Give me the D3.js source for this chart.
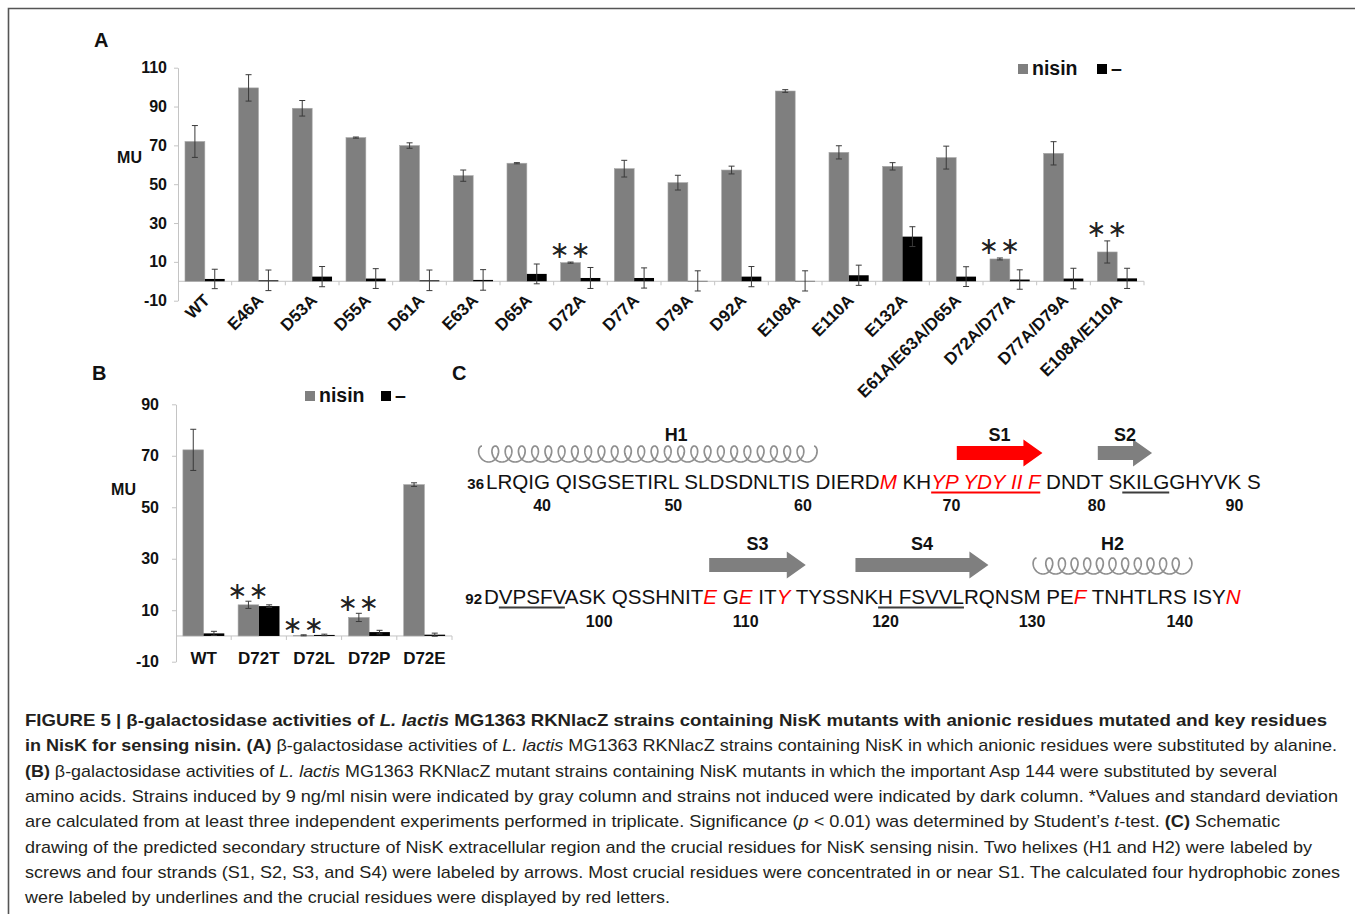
<!DOCTYPE html>
<html>
<head>
<meta charset="utf-8">
<script src="https://cdn.jsdelivr.net/npm/d3@7"></script>
<style>
body { margin: 0; background: #fff; }
svg { display: block; font-family: "Liberation Sans", Arial, sans-serif; }
.seq { white-space: pre; }
</style>
</head>
<body>
<svg id="fig" width="1355" height="914"></svg>
<script>
// ---------- panel A : alanine substitutions ----------
var strainsA = ["WT", "E46A", "D53A", "D55A", "D61A", "E63A", "D65A", "D72A", "D77A", "D79A",
                "D92A", "E108A", "E110A", "E132A", "E61A/E63A/D65A", "D72A/D77A", "D77A/D79A", "E108A/E110A"];
var nisinA    = [72.0, 99.6, 89.1, 74.0, 69.9, 54.4, 60.8, 9.6, 58.0, 50.8, 57.3, 98.0, 66.4, 59.2, 63.7, 11.5, 65.9, 15.1];
var nisinErrA = [8.2, 6.8, 4.0, 0.3, 1.4, 2.9, 0.3, 0.3, 4.3, 3.8, 2.0, 0.7, 3.4, 1.9, 5.9, 0.5, 6.0, 5.7];
var blankA    = [1.2, 0.5, 2.4, 1.4, 0.5, 0.7, 3.8, 1.7, 1.7, 0.2, 2.4, 0.2, 3.1, 23.0, 2.4, 0.9, 1.4, 1.5];
var blankErrA = [5.0, 5.3, 5.2, 5.1, 5.3, 5.3, 5.1, 5.4, 5.2, 5.2, 5.2, 5.2, 5.2, 5.1, 5.1, 5.0, 5.3, 5.2];
var starsA = ["D72A", "D72A/D77A", "E108A/E110A"];
var ticksA = [-10, 10, 30, 50, 70, 90, 110];

// ---------- panel B : D72 substitutions ----------
var strainsB = ["WT", "D72T", "D72L", "D72P", "D72E"];
var nisinB    = [72.3, 12.1, 0.25, 7.2, 58.8];
var nisinErrB = [8.0, 1.4, 0.2, 1.6, 0.7];
var blankB    = [1.0, 11.6, 0.4, 1.5, 0.5];
var blankErrB = [0.8, 0.5, 0.3, 0.7, 0.6];
var starsB = ["D72T", "D72L", "D72P"];
var ticksB = [-10, 10, 30, 50, 70, 90];

var seriesNames = ["nisin", "\u2013"];

// ---------- panel C : NisK extracellular sequence ----------
var seqRow1 = "LRQIG QISGSETIRL SLDSDNLTIS DIERDM KHYP YDY II F DNDT SKILGGHYVK S";
var seqRow2 = "DVPSFVASK QSSHNITE GE ITY TYSSNKH FSVVLRQNSM PEF TNHTLRS ISYN";
var crucial = [66, 69, 70, 71, 72, 73, 74, 75, 76, 108, 110, 113, 133, 144];
var hydrophobic = [[82, 85], [93, 97], [120, 125]];
var s1Zone = [69, 76];
var seqTicks = [40, 50, 60, 70, 80, 90, 100, 110, 120, 130, 140];
// secondary structure, in residue units
var structure = [
  { name: "H1", kind: "helix",  from: 35.1,  to: 61.3, labelAt: 50.5 },
  { name: "S1", kind: "strand", from: 70.65, to: 76.8, key: true },
  { name: "S2", kind: "strand", from: 80.4,  to: 84.9 },
  { name: "S3", kind: "strand", from: 108.3, to: 114.8 },
  { name: "S4", kind: "strand", from: 118.4, to: 127.6 },
  { name: "H2", kind: "helix",  from: 130.3, to: 141.4 }
];

var captionLines = [
  [["b", "FIGURE 5 | \u03b2-galactosidase activities of "], ["bi", "L. lactis"], ["b", " MG1363 RKNlacZ strains containing NisK mutants with anionic residues mutated and key residues"]],
  [["b", "in NisK for sensing nisin. (A)"], ["", " \u03b2-galactosidase activities of "], ["i", "L. lactis"], ["", " MG1363 RKNlacZ strains containing NisK in which anionic residues were substituted by alanine."]],
  [["b", "(B)"], ["", " \u03b2-galactosidase activities of "], ["i", "L. lactis"], ["", " MG1363 RKNlacZ mutant strains containing NisK mutants in which the important Asp 144 were substituted by several"]],
  [["", "amino acids. Strains induced by 9 ng/ml nisin were indicated by gray column and strains not induced were indicated by dark column. *Values and standard deviation"]],
  [["", "are calculated from at least three independent experiments performed in triplicate. Significance ("], ["i", "p"], ["", " < 0.01) was determined by Student\u2019s "], ["i", "t"], ["", "-test. "], ["b", "(C)"], ["", " Schematic"]],
  [["", "drawing of the predicted secondary structure of NisK extracellular region and the crucial residues for NisK sensing nisin. Two helixes (H1 and H2) were labeled by"]],
  [["", "screws and four strands (S1, S2, S3, and S4) were labeled by arrows. Most crucial residues were concentrated in or near S1. The calculated four hydrophobic zones"]],
  [["", "were labeled by underlines and the crucial residues were displayed by red letters."]]
];
var captionWidths = [1302, 1312, 1252, 1313, 1255, 1287, 1315, 645];

// ------------------------------------------------------------
var GREY = "#7f7f7f", RED = "#ff0000", INK = "#111";
var svg = d3.select("#fig");
svg.append("rect").attr("width", 1355).attr("height", 914).attr("fill", "#fff");
svg.append("path").attr("d", "M8.5,914V8.5H1355")
  .attr("fill", "none").attr("stroke", "#555").attr("stroke-width", 1.6);

function panelLabel(t, x, y) {
  svg.append("text").attr("x", x).attr("y", y).attr("font-size", 20)
    .attr("font-weight", "bold").attr("fill", INK).text(t);
}

function barPanel(o) {
  var g = svg.append("g");
  var x = d3.scaleBand().domain(o.cats).range([o.x0, o.x1]);
  var y = d3.scaleLinear().domain([o.ticks[0], o.ticks[o.ticks.length - 1]]).range([o.yb, o.yt]);
  var bw = x.bandwidth() * o.barFrac;
  var y0 = y(0);

  var ya = g.append("g").attr("transform", "translate(" + o.x0 + ",0)")
    .call(d3.axisLeft(y).tickValues(o.ticks).tickSize(4).tickSizeOuter(0)
      .tickPadding(o.tickPad).tickFormat(function (d) { return String(d); }));
  ya.select(".domain").attr("stroke", "#c4c4c4");
  ya.selectAll(".tick line").attr("stroke", "#c4c4c4");
  ya.selectAll(".tick text").attr("font-size", 16).attr("font-weight", "bold")
    .attr("fill", INK).attr("font-family", "Liberation Sans, Arial, sans-serif");

  // zero line with ticks between categories
  g.append("line").attr("x1", o.x0).attr("x2", o.x1).attr("y1", y0).attr("y2", y0)
    .attr("stroke", "#c4c4c4");
  g.selectAll(".sep").data(o.cats).join("line")
    .attr("x1", function (d) { return x(d) + x.step(); })
    .attr("x2", function (d) { return x(d) + x.step(); })
    .attr("y1", y0).attr("y2", y0 + 4).attr("stroke", "#c4c4c4");

  var series = [
    { vals: o.nisin, errs: o.nisinErr, fill: GREY, dx: -bw },
    { vals: o.blank, errs: o.blankErr, fill: "#000", dx: 0 }
  ];
  series.forEach(function (s) {
    var rows = o.cats.map(function (c, i) { return { c: c, v: s.vals[i], e: s.errs[i] }; });
    g.append("g").selectAll("rect").data(rows).join("rect")
      .attr("x", function (d) { return x(d.c) + x.bandwidth() / 2 + s.dx; })
      .attr("width", bw)
      .attr("y", function (d) { return Math.min(y(d.v), y0); })
      .attr("height", function (d) { return Math.abs(y0 - y(d.v)); })
      .attr("fill", s.fill)
      .attr("stroke", s.fill === GREY ? "#a8a8a8" : "none").attr("stroke-width", 0.6);
    var eb = g.append("g").attr("stroke", "#3a3a3a").attr("stroke-width", 1)
      .selectAll("g").data(rows).join("g")
      .attr("transform", function (d) { return "translate(" + (x(d.c) + x.bandwidth() / 2 + s.dx + bw / 2) + ",0)"; });
    eb.append("line").attr("y1", function (d) { return y(d.v - d.e); }).attr("y2", function (d) { return y(d.v + d.e); });
    eb.append("line").attr("x1", -3).attr("x2", 3).attr("y1", function (d) { return y(d.v + d.e); }).attr("y2", function (d) { return y(d.v + d.e); });
    eb.append("line").attr("x1", -3).attr("x2", 3).attr("y1", function (d) { return y(d.v - d.e); }).attr("y2", function (d) { return y(d.v - d.e); });
  });

  // significance marks over the nisin bar
  g.selectAll(".star").data(o.stars).join("text")
    .attr("x", function (c) { return x(c) + x.bandwidth() / 2 - bw / 2; })
    .attr("y", function (c) {
      var i = o.cats.indexOf(c);
      return y(o.nisin[i] + o.nisinErr[i]) - o.starGap + 8;
    })
    .attr("text-anchor", "middle").attr("font-family", "DejaVu Sans, sans-serif")
    .attr("font-size", 24).attr("letter-spacing", 1)
    .attr("fill", "#222").text("\u2217\u2217");

  // category labels
  var lab = g.selectAll(".cat").data(o.cats).join("text")
    .attr("font-size", 17).attr("font-weight", "bold").attr("fill", INK).text(function (d) { return d; });
  if (o.rotate) {
    lab.attr("text-anchor", "end")
      .attr("transform", function (d) { return "translate(" + (x(d) + x.bandwidth() / 2 + 6) + "," + (y0 + 20) + ") rotate(-45)"; });
  } else {
    lab.attr("text-anchor", "middle").attr("x", function (d) { return x(d) + x.bandwidth() / 2; })
      .attr("y", o.labBase);
  }

  g.append("text").attr("x", o.muX).attr("y", o.muY).attr("text-anchor", "end")
    .attr("font-size", 16).attr("font-weight", "bold").attr("fill", INK).text("MU");

  // legend
  var lg = g.selectAll(".lg").data(seriesNames).join("g")
    .attr("transform", function (d, i) { return "translate(" + (o.legX + i * o.legStep) + "," + o.legY + ")"; });
  lg.append("rect").attr("width", 10).attr("height", 10)
    .attr("fill", function (d, i) { return i === 0 ? GREY : "#000"; });
  lg.append("text").attr("x", 14).attr("y", 11).attr("font-size", 19.5).attr("font-weight", "bold")
    .attr("fill", INK).text(function (d) { return d; });
}

panelLabel("A", 94, 47);
barPanel({
  cats: strainsA, nisin: nisinA, nisinErr: nisinErrA, blank: blankA, blankErr: blankErrA,
  stars: starsA, ticks: ticksA, x0: 178, x1: 1144, yb: 300.7, yt: 67.7, barFrac: 0.37,
  tickPad: 7, starGap: 12, rotate: true, muX: 142, muY: 163,
  legX: 1018, legY: 64, legStep: 79
});

panelLabel("B", 92, 380);
barPanel({
  cats: strainsB, nisin: nisinB, nisinErr: nisinErrB, blank: blankB, blankErr: blankErrB,
  stars: starsB, ticks: ticksB, x0: 176, x1: 452, yb: 661.7, yt: 404.3, barFrac: 0.375,
  tickPad: 13, starGap: 10, rotate: false, labBase: 664, muX: 136, muY: 495,
  legX: 305, legY: 391, legStep: 76
});

// ---------- panel C ----------
panelLabel("C", 452, 380);
var gC = svg.append("g");
var rows = [
  { seq: seqRow1, first: 36, x: 486, base: 488.5, numBase: 511, structY: 453, labBase: 441 },
  { seq: seqRow2, first: 92, x: 484, base: 603.5, numBase: 627, structY: 565, labBase: 550 }
];

function helixPath(x0, x1, yc) {
  var n = Math.round((x1 - x0) / 13.6), rx = 6.3, ry = 8;
  var T = n * 2 * Math.PI, pts = [];
  for (var t = 0; t <= T + 1e-6; t += 0.1) {
    pts.push([x0 + rx + (x1 - x0 - 2 * rx) * t / T - rx * Math.sin(t), yc - ry * Math.cos(t)]);
  }
  return d3.line()(pts);
}
function arrowPath(x0, x1, yc) {
  var bh = 7, hh = 13.5, hl = 19;
  return d3.line()([[x0, yc - bh], [x1 - hl, yc - bh], [x1 - hl, yc - hh], [x1, yc],
    [x1 - hl, yc + hh], [x1 - hl, yc + bh], [x0, yc + bh]]) + "Z";
}

rows.forEach(function (row) {
  var chars = row.seq.split(""), res = [], r = row.first;
  chars.forEach(function (c) { res.push(c === " " ? null : r++); });
  var last = r - 1;
  var runs = [];
  chars.forEach(function (c, i) {
    var red = res[i] === null ? (runs.length ? runs[runs.length - 1].red : false) : crucial.indexOf(res[i]) >= 0;
    if (runs.length && runs[runs.length - 1].red === red) runs[runs.length - 1].t += c;
    else runs.push({ t: c, red: red });
  });

  gC.append("text").attr("x", row.x - 2).attr("y", row.base).attr("text-anchor", "end")
    .attr("font-size", 15).attr("font-weight", "bold").attr("fill", INK).text(row.first);

  var txt = gC.append("text").attr("class", "seq").attr("x", row.x).attr("y", row.base)
    .attr("font-size", 20.6).attr("fill", INK);
  txt.selectAll("tspan").data(runs).join("tspan")
    .attr("fill", function (d) { return d.red ? RED : INK; })
    .attr("font-style", function (d) { return d.red ? "italic" : "normal"; })
    .text(function (d) { return d.t; });

  var node = txt.node(), left = {}, right = {};
  res.forEach(function (rr, i) {
    if (rr === null) return;
    var e = node.getExtentOfChar(i);
    left[rr] = e.x; right[rr] = e.x + e.width;
  });
  function pos(v) {
    var i = Math.floor(v), f = v - i;
    if (i < row.first) return left[row.first] + (v - row.first) * (left[row.first + 1] - left[row.first]);
    if (i > last) return right[last];
    var nx = left[i + 1] !== undefined ? left[i + 1] : right[i];
    return left[i] + f * (nx - left[i]);
  }
  function inRow(a) { return a >= row.first && a <= last; }

  // underlines
  var zones = hydrophobic.filter(function (z) { return inRow(z[0]); })
    .map(function (z) { return { a: z[0], b: z[1], c: "#3c3c3c" }; });
  if (inRow(s1Zone[0])) zones.push({ a: s1Zone[0], b: s1Zone[1], c: RED });
  gC.selectAll(null).data(zones).join("line")
    .attr("x1", function (d) { return left[d.a]; }).attr("x2", function (d) { return right[d.b]; })
    .attr("y1", row.base + 4).attr("y2", row.base + 4)
    .attr("stroke", function (d) { return d.c; }).attr("stroke-width", 2);

  // residue numbers
  gC.selectAll(null).data(seqTicks.filter(inRow)).join("text")
    .attr("x", function (d) { return (left[d] + right[d]) / 2; }).attr("y", row.numBase)
    .attr("text-anchor", "middle").attr("font-size", 16).attr("font-weight", "bold")
    .attr("fill", INK).text(function (d) { return d; });

  // secondary structure
  var els = structure.filter(function (s) { return inRow(Math.round(s.to)); });
  els.forEach(function (s) {
    var x0 = pos(s.from), x1 = pos(s.to);
    if (s.kind === "helix") {
      gC.append("path").attr("d", helixPath(x0, x1, row.structY + 1))
        .attr("fill", "none").attr("stroke", "#8f8f8f").attr("stroke-width", 1.7);
    } else {
      gC.append("path").attr("d", arrowPath(x0, x1, row.structY))
        .attr("fill", s.key ? RED : GREY);
    }
    var lx = s.labelAt !== undefined ? pos(s.labelAt) : (x0 + x1) / 2;
    gC.append("text").attr("x", lx).attr("y", row.labBase).attr("text-anchor", "middle")
      .attr("font-size", 18).attr("font-weight", "bold").attr("fill", INK).text(s.name);
  });
});

// ---------- caption ----------
var cap = svg.append("g").attr("font-family", "Liberation Sans Narrow, Arial Narrow, Liberation Sans, sans-serif")
  .attr("font-size", 17).attr("fill", "#231f20");
captionLines.forEach(function (line, i) {
  var t = cap.append("text").attr("x", 25).attr("y", 726 + i * 25.3)
    .attr("textLength", captionWidths[i]).attr("lengthAdjust", "spacingAndGlyphs");
  t.selectAll("tspan").data(line).join("tspan")
    .attr("font-weight", function (d) { return d[0].indexOf("b") >= 0 ? "bold" : "normal"; })
    .attr("font-style", function (d) { return d[0].indexOf("i") >= 0 ? "italic" : "normal"; })
    .text(function (d) { return d[1]; });
});
</script>
</body>
</html>
